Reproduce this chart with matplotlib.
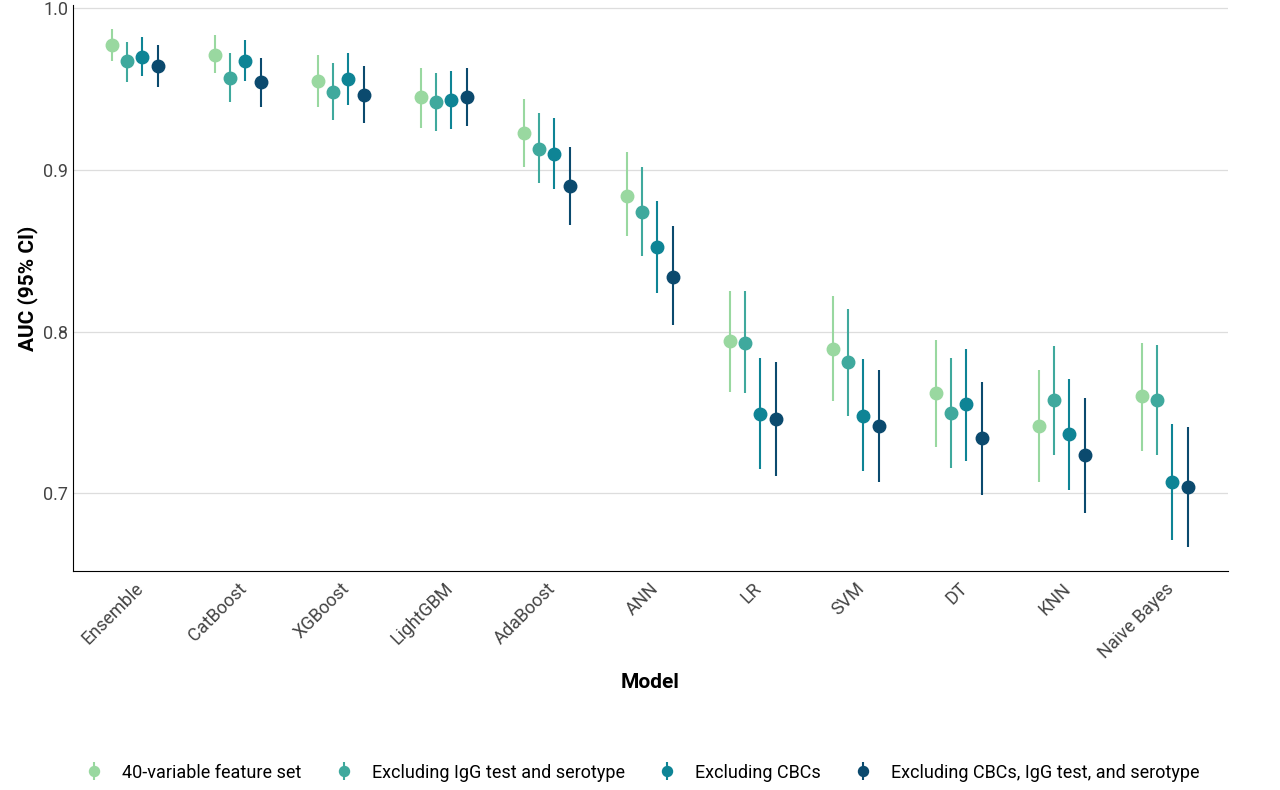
import matplotlib
matplotlib.use("Agg")
import matplotlib.pyplot as plt
import numpy as np

plt.rcParams['font.family'] = ['Roboto', 'DejaVu Sans']

models = ["Ensemble", "CatBoost", "XGBoost", "LightGBM", "AdaBoost", "ANN", "LR", "SVM", "DT", "KNN", "Naive Bayes"]
series = ["40-variable feature set", "Excluding IgG test and serotype", "Excluding CBCs",
          "Excluding CBCs, IgG test, and serotype"]
colors = ["#99d8a0", "#3fa99d", "#0e8495", "#0b4a6e"]

auc = [
    [0.977, 0.971, 0.955, 0.945, 0.923, 0.884, 0.794, 0.789, 0.762, 0.742, 0.760],
    [0.967, 0.957, 0.948, 0.942, 0.913, 0.874, 0.793, 0.781, 0.750, 0.758, 0.758],
    [0.970, 0.967, 0.956, 0.943, 0.910, 0.852, 0.749, 0.748, 0.755, 0.737, 0.707],
    [0.964, 0.954, 0.946, 0.945, 0.890, 0.834, 0.746, 0.742, 0.734, 0.724, 0.704],
]
lo = [
    [0.967, 0.960, 0.939, 0.926, 0.902, 0.859, 0.763, 0.757, 0.729, 0.707, 0.726],
    [0.954, 0.942, 0.931, 0.924, 0.892, 0.847, 0.762, 0.748, 0.716, 0.724, 0.724],
    [0.958, 0.955, 0.940, 0.925, 0.888, 0.824, 0.715, 0.714, 0.720, 0.702, 0.671],
    [0.951, 0.939, 0.929, 0.927, 0.866, 0.804, 0.711, 0.707, 0.699, 0.688, 0.667],
]
hi = [
    [0.987, 0.983, 0.971, 0.963, 0.944, 0.911, 0.825, 0.822, 0.795, 0.776, 0.793],
    [0.979, 0.972, 0.966, 0.960, 0.935, 0.902, 0.825, 0.814, 0.784, 0.791, 0.792],
    [0.982, 0.980, 0.972, 0.961, 0.932, 0.881, 0.784, 0.783, 0.789, 0.771, 0.743],
    [0.977, 0.969, 0.964, 0.963, 0.914, 0.865, 0.781, 0.776, 0.769, 0.759, 0.741],
]

fig = plt.figure(figsize=(12.8, 7.9), dpi=100)
ax = fig.add_axes([0.057, 0.277, 0.902, 0.717])
x = np.arange(len(models))
offsets = [-0.225, -0.075, 0.075, 0.225]
handles = []
for i in range(4):
    a = np.array(auc[i]); l = np.array(lo[i]); h = np.array(hi[i])
    eb = ax.errorbar(x + offsets[i], a, yerr=[a - l, h - a], fmt='o', color=colors[i],
                     ms=9, elinewidth=1.5, capsize=0, label=series[i], zorder=3)
    handles.append(eb)

ax.set_xlim(-0.6, 10.61)
ax.set_ylim(0.652, 1.002)
ax.set_yticks([0.7, 0.8, 0.9, 1.0])
ax.set_yticklabels(["0.7", "0.8", "0.9", "1.0"])
ax.yaxis.grid(True, color="#dddddd", lw=0.9)
ax.set_axisbelow(True)
ax.set_xticks(x)
ax.set_xticklabels(models, rotation=45, ha='right', rotation_mode='anchor', fontsize=13, color="#444444")
ax.tick_params(axis='y', labelsize=13, labelcolor="#444444", length=0)
ax.tick_params(axis='x', length=0, pad=6)
for s in ['top', 'right']:
    ax.spines[s].set_visible(False)
for s in ['left', 'bottom']:
    ax.spines[s].set_color('black')
ax.set_xlabel("Model", fontsize=15, fontweight='bold', labelpad=8)
ax.set_ylabel("AUC (95% CI)", fontsize=15, fontweight='bold')

leg = fig.legend(handles=handles, labels=series, loc='center', bbox_to_anchor=(0.5, 0.022), ncol=4,
                 frameon=False, fontsize=13, handletextpad=0.8, columnspacing=1.6,
                 handlelength=1.5, markerscale=0.8)
fig.savefig("out.png", dpi=100)
